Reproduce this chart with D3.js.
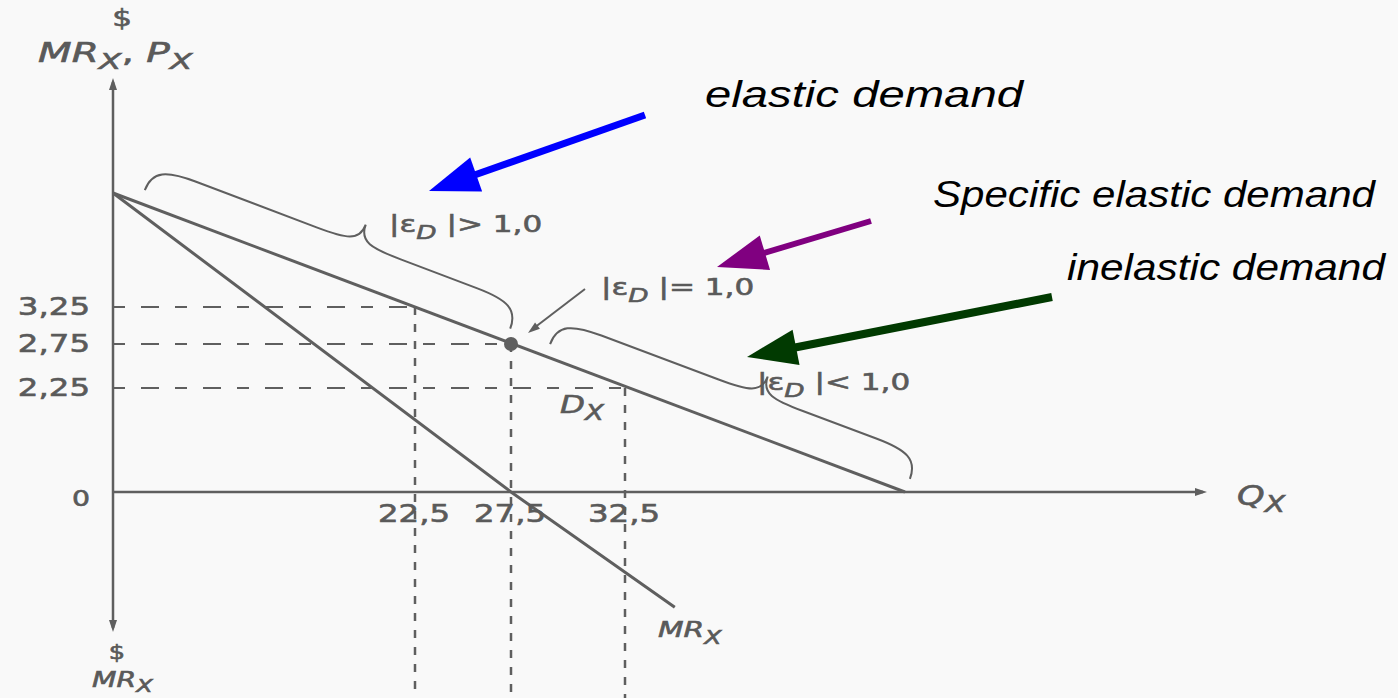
<!DOCTYPE html>
<html>
<head>
<meta charset="utf-8">
<script src="https://cdn.jsdelivr.net/npm/d3@7"></script>
<style>
  html, body { margin: 0; padding: 0; background: #f9f9f9; }
  svg { display: block; }
</style>
</head>
<body>
<svg id="chart" width="1398" height="698"></svg>
<script>
// values (P = 5.5 - 0.1Q, MR = 5.5 - 0.2Q)
const demand = [[0, 5.5], [55, 0]];
const marginalRevenue = [[0, 5.5], [27.5, 0], [36.5, -1.8]];
const quantities = [22.5, 27.5, 32.5];
const prices = [3.25, 2.75, 2.25];
const xTickLabels = ["22,5", "27,5", "32,5"];
const yTickLabels = ["3,25", "2,75", "2,25"];
const unitPoint = [27.5, 2.75];
const braceRanges = [[2.0, 27.2], [29.0, 55]];

const svg = d3.select("#chart");
const ink = "#5f5f5f";
const textInk = "#5a5a5a";
const stretch = 1.35; // the scan is stretched sideways

svg.append("rect").attr("width", 1398).attr("height", 698).attr("fill", "#f9f9f9");

// the drawing is not to scale, so the scales are piecewise
const x = d3.scaleLinear().domain([0, 22.5, 27.5, 32.5, 55]).range([113, 415, 511, 625, 905]);
const y = d3.scaleLinear().domain([-3.5, 0, 2.25, 2.75, 3.25, 5.5]).range([716, 492, 388, 344, 307, 193]);

const line = d3.line().x(d => x(d[0])).y(d => y(d[1]));

// axes
const g = svg.append("g");
g.append("line").attr("x1", x(0)).attr("x2", x(0)).attr("y1", 82).attr("y2", 628)
  .attr("stroke", ink).attr("stroke-width", 2.5);
g.append("line").attr("x1", x(0)).attr("x2", 1203).attr("y1", y(0)).attr("y2", y(0))
  .attr("stroke", ink).attr("stroke-width", 2.5);
const head = (px, py, dx, dy, len, hw) => {
  const bx = px - dx * len, by = py - dy * len;
  return `M${px},${py}L${bx - dy * hw},${by + dx * hw}L${bx + dy * hw},${by - dx * hw}Z`;
};
g.append("path").attr("d", head(x(0), 78, 0, -1, 12, 4)).attr("fill", ink);
g.append("path").attr("d", head(x(0), 632, 0, 1, 12, 4)).attr("fill", ink);
g.append("path").attr("d", head(1207, y(0), 1, 0, 12, 4)).attr("fill", ink);

// dashed guides
quantities.forEach((q, i) => {
  g.append("line").attr("x1", x(0)).attr("x2", x(q)).attr("y1", y(prices[i])).attr("y2", y(prices[i]))
    .attr("stroke", ink).attr("stroke-width", 2).attr("stroke-dasharray", "12,16,18,16");
  g.append("line").attr("x1", x(q)).attr("x2", x(q)).attr("y1", y(prices[i])).attr("y2", 698)
    .attr("stroke", ink).attr("stroke-width", 2.5).attr("stroke-dasharray", "8,9");
});

// demand and marginal revenue
g.append("path").datum(demand).attr("d", line).attr("fill", "none").attr("stroke", ink).attr("stroke-width", 3);
g.append("path").datum(marginalRevenue).attr("d", line).attr("fill", "none").attr("stroke", ink).attr("stroke-width", 3);
g.append("circle").attr("cx", x(unitPoint[0])).attr("cy", y(unitPoint[1])).attr("r", 7).attr("fill", ink);

// braces above the demand line
const demandAt = q => 5.5 - 0.1 * q;
function bracePath(L, tu, w, a, r) {
  return `M0,0 C0,${-a * 0.8} ${r * 0.3},${-a} ${r},${-a} L${tu - r},${-a}` +
    ` C${tu - r * 0.3},${-a} ${tu},${-a - 2} ${tu},${-w}` +
    ` C${tu},${-a - 2} ${tu + r * 0.3},${-a} ${tu + r},${-a} L${L - r},${-a}` +
    ` C${L - r * 0.3},${-a} ${L},${-a * 0.8} ${L},0`;
}
braceRanges.forEach(([q0, q1]) => {
  let x0 = x(q0), y0 = y(demandAt(q0)), x1 = x(q1), y1 = y(demandAt(q1));
  const ang = Math.atan2(y1 - y0, x1 - x0);
  const nx = Math.sin(ang), ny = -Math.cos(ang);
  x0 += nx * 14; y0 += ny * 14; x1 += nx * 14; y1 += ny * 14;
  const L = Math.hypot(x1 - x0, y1 - y0);
  g.append("path").attr("d", bracePath(L, L * 0.56, 46, 26, 45))
    .attr("transform", `translate(${x0},${y0}) rotate(${ang * 180 / Math.PI})`)
    .attr("fill", "none").attr("stroke", ink).attr("stroke-width", 2);
});

// textbook labels
function label(px, py, parts, opts = {}) {
  const size = opts.size || 24;
  const t = svg.append("g").attr("transform", `translate(${px},${py}) scale(${opts.sx || stretch},1)`)
    .append("text").attr("font-family", "DejaVu Sans, Verdana, sans-serif")
    .attr("font-size", size).attr("fill", textInk)
    .attr("stroke", textInk).attr("stroke-width", 0.6)
    .attr("text-anchor", opts.anchor || "start");
  parts.forEach(p => {
    const s = t.append("tspan").text(p.t);
    if (p.i) s.attr("font-style", "italic");
    if (p.sub) s.attr("font-size", size * 0.85).attr("dy", opts.subDy || 7);
    if (p.up) s.attr("dy", -(opts.subDy || 7));
  });
  return t;
}

yTickLabels.forEach((s, i) => label(90, y(prices[i]) + 8, [{ t: s }], { anchor: "end" }));
label(90, y(0) + 14, [{ t: "0" }], { anchor: "end", size: 21 });
xTickLabels.forEach((s, i) => label(x(quantities[i]) - 1, y(0) + 30, [{ t: s }], { anchor: "middle" }));

label(122, 26, [{ t: "$" }], { anchor: "middle", size: 23 });
label(38, 62, [{ t: "MR", i: true }, { t: "X", i: true, sub: true }, { t: ", ", up: true }, { t: "P", i: true }, { t: "X", i: true, sub: true }], { size: 26, sx: 1.5 });
label(117, 659, [{ t: "$" }], { anchor: "middle", size: 19 });
label(92, 687, [{ t: "MR", i: true }, { t: "X", i: true, sub: true }], { size: 21, subDy: 5 });
label(1237, 505, [{ t: "Q", i: true }, { t: "X", i: true, sub: true }], { size: 26 });
label(560, 413, [{ t: "D", i: true }, { t: "X", i: true, sub: true }], { size: 24 });
label(658, 637, [{ t: "MR", i: true }, { t: "X", i: true, sub: true }], { size: 22 });

label(389, 232, [{ t: "|ε" }, { t: "D", i: true, sub: true }, { t: " |> 1,0", up: true }], { size: 23 });
label(601, 295, [{ t: "|ε" }, { t: "D", i: true, sub: true }, { t: " |= 1,0", up: true }], { size: 23 });
label(757, 390, [{ t: "|ε" }, { t: "D", i: true, sub: true }, { t: " |< 1,0", up: true }], { size: 23 });

// small arrow to the unit-elastic point
g.append("line").attr("x1", 585).attr("y1", 289).attr("x2", 534).attr("y2", 328)
  .attr("stroke", ink).attr("stroke-width", 2);
g.append("path").attr("d", head(528, 333, -0.79, 0.61, 12, 4)).attr("fill", ink);

// coloured annotations
const notes = [
  { text: "elastic demand", tx: 705, ty: 107, w: 318, color: "#0000ff", from: [645, 115], to: [429, 191], sw: 7 },
  { text: "Specific elastic demand", tx: 933, ty: 207, w: 442, color: "#800080", from: [871, 221], to: [717, 267], sw: 6 },
  { text: "inelastic demand", tx: 1067, ty: 280, w: 318, color: "#013a01", from: [1052, 297], to: [747, 357], sw: 8 }
];
notes.forEach(n => {
  svg.append("text").attr("x", n.tx).attr("y", n.ty).text(n.text)
    .attr("font-family", "Liberation Sans, Arial, sans-serif").attr("font-style", "italic")
    .attr("font-size", 37).attr("fill", "#000")
    .attr("textLength", n.w).attr("lengthAdjust", "spacingAndGlyphs");
  const dx = n.to[0] - n.from[0], dy = n.to[1] - n.from[1], len = Math.hypot(dx, dy);
  const ux = dx / len, uy = dy / len;
  svg.append("line").attr("x1", n.from[0]).attr("y1", n.from[1])
    .attr("x2", n.to[0] - ux * 40).attr("y2", n.to[1] - uy * 40)
    .attr("stroke", n.color).attr("stroke-width", n.sw);
  svg.append("path").attr("d", head(n.to[0], n.to[1], ux, uy, 50, 18)).attr("fill", n.color);
});
</script>
</body>
</html>
